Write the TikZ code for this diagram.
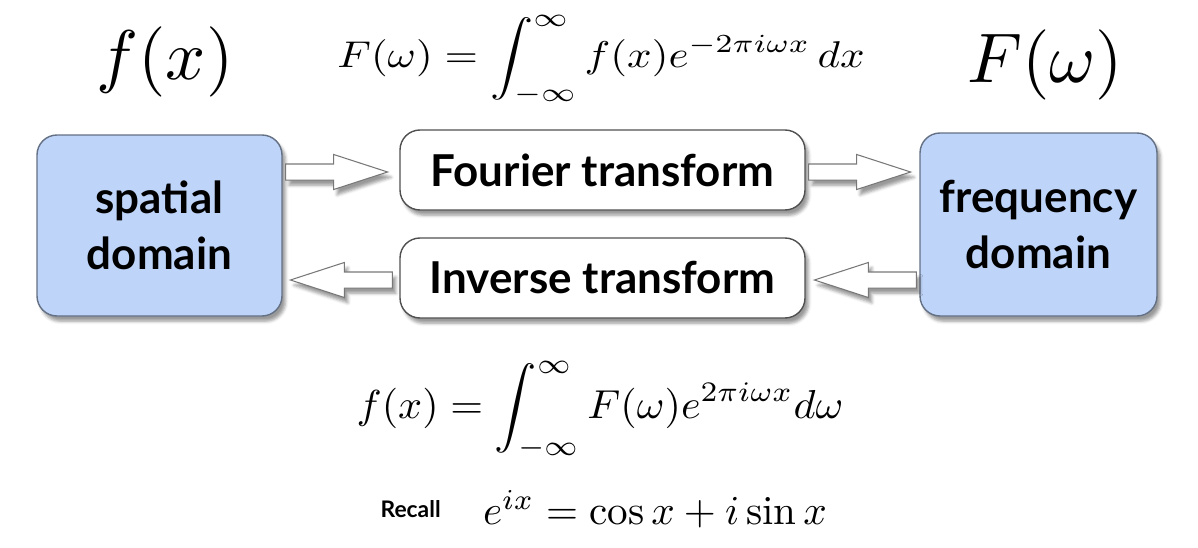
\documentclass[tikz,border=0pt]{standalone}
\usepackage{amsmath, amssymb}
\usepackage{fontspec}
\setsansfont{Lato}
\usepackage{tikz}
\usetikzlibrary{shapes.arrows, positioning, calc, shadows.blur}

\definecolor{domainblue}{RGB}{190,212,248}
\definecolor{domainedge}{RGB}{100,112,132}
\definecolor{stepedge}{RGB}{80,80,80}
\definecolor{arrowedge}{RGB}{120,120,120}

\begin{document}
\begin{tikzpicture}[node distance=1.2cm, auto,
    domainbox/.style={draw=domainedge, fill=domainblue, line width=0.8pt, rounded corners=0.4cm, align=center,
        font=\sffamily\bfseries\fontsize{25}{32}\selectfont, blur shadow={shadow xshift=2pt, shadow yshift=-3pt, shadow opacity=40}},
    transbox/.style={draw=stepedge, fill=white, line width=0.8pt, rounded corners=0.4cm, minimum width=8.1cm, minimum height=1.6cm,
        font=\sffamily\bfseries\fontsize{25}{30}\selectfont, blur shadow={shadow xshift=2pt, shadow yshift=-3pt, shadow opacity=40}},
    fatarrow/.style={single arrow, draw=arrowedge, fill=white, line width=0.6pt, inner sep=0.15cm, minimum height=2.04cm,
        single arrow head extend=0.19cm, single arrow tip angle=36, blur shadow={shadow xshift=2pt, shadow yshift=-3pt, shadow opacity=40}}]
    \useasboundingbox (0,0) rectangle (23.96,-10.94);

    \node (spatial) at (3.19,-4.51) [domainbox, minimum width=4.9cm, minimum height=3.62cm] {spatial\\domain};
    \node (freq) at (20.77,-4.49) [domainbox, minimum width=4.74cm, minimum height=3.66cm] {frequency\\domain};
    \node (fourier) at (12.05,-3.4) [transbox] {Fourier transform};
    \node (inverse) at (12.05,-5.56) [transbox] {Inverse transform};

    \node (a1) at ($(fourier.west)+(-0.2,-0.04)$) [fatarrow, anchor=tip] {};
    \node (a2) at ($(freq.west |- fourier)+(-0.14,-0.04)$) [fatarrow, anchor=tip] {};
    \node (a3) at ($(inverse.east)+(0.14,-0.04)$) [fatarrow, shape border rotate=180, anchor=tip] {};
    \node (a4) at ($(spatial.east |- inverse)+(0.12,-0.04)$) [fatarrow, shape border rotate=180, anchor=tip] {};

    \node (fx) at (3.3,-1.24) {\scalebox{4}{$f(x)$}};
    \node (Fw) at (20.9,-1.3) {\scalebox{4}{$F(\omega)$}};
    \node (fwd) at (12.02,-1.2) [inner sep=0pt] {\scalebox{2.45}[2.12]{$\displaystyle F(\omega) = \int_{-\infty}^{\infty} f(x)e^{-2\pi i\omega x}\,dx$}};
    \node (inv) at (12.0,-8.2) {\scalebox{2.4}[2.3]{$\displaystyle f(x) = \int_{-\infty}^{\infty} F(\omega)e^{2\pi i\omega x}d\omega$}};
    \node (euler) at (13.1,-10.18) {\scalebox{2.34}{$e^{ix} = \cos x + i\sin x$}};
    \node (recall) [left=0.6cm of euler, font=\sffamily\bfseries\fontsize{13}{15}\selectfont] {Recall};
\end{tikzpicture}
\end{document}
